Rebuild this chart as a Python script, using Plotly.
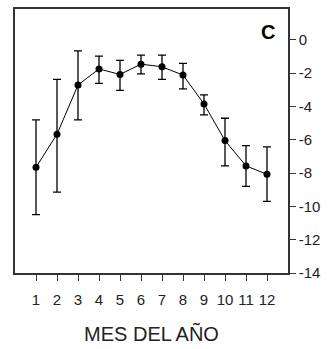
import plotly.graph_objects as go

months = list(range(1, 13))
mean_vals = [-7.65, -5.67, -2.71, -1.75, -2.08, -1.46, -1.62, -2.12, -3.85, -6.05, -7.57, -8.07]
err_upper = [2.84, 3.29, 2.05, 0.77, 0.84, 0.54, 0.70, 0.70, 0.54, 1.34, 1.22, 1.64]
err_lower = [2.85, 3.47, 2.10, 0.87, 0.96, 0.58, 0.76, 0.83, 0.66, 1.52, 1.23, 1.63]
x_ticks = months
y_ticks = [0, -2, -4, -6, -8, -10, -12, -14]

fig = go.Figure()
fig.add_trace(go.Scatter(
    x=months, y=mean_vals,
    mode="lines+markers",
    line=dict(color="black", width=1),
    marker=dict(color="black", size=7),
    error_y=dict(type="data", symmetric=False, array=err_upper, arrayminus=err_lower,
                 color="black", thickness=1.3, width=4),
    showlegend=False,
))

fig.add_annotation(text="<b>C</b>", x=0.927, y=0.914, xref="paper", yref="paper",
                   xanchor="center", yanchor="middle", showarrow=False,
                   font=dict(family="Liberation Sans, Arial", size=20, color="black"))

axis_line = dict(showline=True, linecolor="#333333", linewidth=1.5, mirror=True,
                 showgrid=False, zeroline=False, ticks="outside", ticklen=6,
                 tickwidth=1.3, tickcolor="#333333")

fig.update_xaxes(range=[0, 13], tickvals=x_ticks, ticktext=[str(m) for m in x_ticks],
                 tickfont=dict(size=15, color="#222222"), ticklabelstandoff=6,
                 title=dict(text="MES DEL AÑO", font=dict(size=20, color="#222222"), standoff=20),
                 **axis_line)
fig.update_yaxes(range=[-14, 1.85], side="right", tickvals=y_ticks,
                 ticktext=[str(v) for v in y_ticks],
                 tickfont=dict(size=15, color="#222222"), **axis_line)

fig.update_layout(
    width=336, height=349,
    margin=dict(l=15, r=48, t=7, b=76),
    plot_bgcolor="white", paper_bgcolor="white",
    font=dict(family="Liberation Sans, Arial, sans-serif"),
)

fig.write_html("out.html")
